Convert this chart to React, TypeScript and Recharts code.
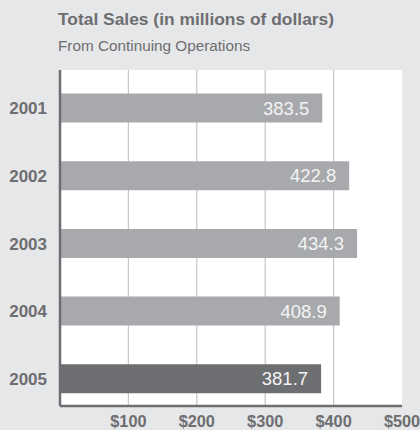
import React from 'react';
import { BarChart, Bar, XAxis, YAxis, CartesianGrid, Cell, LabelList } from 'recharts';

// values
const years = ['2001', '2002', '2003', '2004', '2005'];
const sales = [383.5, 422.8, 434.3, 408.9, 381.7];
const axisTicks = [100, 200, 300, 400, 500];
const gridTicks = [100, 200, 300, 400];

const data = years.map((year, i) => ({ year, sales: sales[i] }));

const font = "'Liberation Sans', Arial, sans-serif";
const ink = '#6d6e71';
const barGray = '#a7a9ac';
const gridGray = '#c6c6c6';

export default function App() {
  return (
    <div
      style={{
        position: 'fixed',
        left: 0,
        top: 0,
        width: 420,
        height: 430,
        background: '#e6e7e8',
        fontFamily: font,
        overflow: 'hidden',
      }}
    >
      <div
        style={{
          position: 'absolute',
          left: 58,
          top: 11,
          fontSize: 17.4,
          lineHeight: '17px',
          fontWeight: 'bold',
          color: ink,
          whiteSpace: 'nowrap',
        }}
      >
        Total Sales (in millions of dollars)
      </div>
      <div
        style={{
          position: 'absolute',
          left: 58,
          top: 37.5,
          fontSize: 15.3,
          lineHeight: '15.3px',
          color: ink,
          whiteSpace: 'nowrap',
        }}
      >
        From Continuing Operations
      </div>
      <div style={{ position: 'absolute', left: 0, top: 0 }}>
        <BarChart
          width={420}
          height={430}
          data={data}
          layout="vertical"
          margin={{ top: 62, right: 18, bottom: 0, left: 0 }}
          style={{ fontFamily: font }}
        >
          <CartesianGrid
            horizontal={false}
            verticalValues={gridTicks}
            stroke={gridGray}
            strokeWidth={1.2}
            fill="#ffffff"
          />
          <XAxis
            xAxisId="top"
            orientation="top"
            type="number"
            domain={[0, 500]}
            ticks={gridTicks}
            interval={0}
            height={8}
            axisLine={false}
            tickSize={8}
            tickLine={{ stroke: gridGray, strokeWidth: 1.2 }}
            tick={{ fontSize: 0 }}
          />
          <XAxis
            type="number"
            domain={[0, 500]}
            ticks={axisTicks}
            interval={0}
            height={24}
            tickFormatter={(v: number) => `$${v}`}
            axisLine={{ stroke: ink, strokeWidth: 2.5 }}
            tickLine={false}
            tickSize={6}
            tickMargin={3}
            tick={{ fill: ink, fontSize: 16.3, fontWeight: 'bold' }}
          />
          <YAxis
            type="category"
            dataKey="year"
            width={60}
            padding={{ top: 4.5, bottom: -7 }}
            axisLine={{ stroke: ink, strokeWidth: 2.5 }}
            tickLine={false}
            tickMargin={7}
            tick={{ fill: ink, fontSize: 17, fontWeight: 'bold' }}
          />
          <Bar dataKey="sales" xAxisId="top" hide isAnimationActive={false} />
          <Bar dataKey="sales" barSize={29} isAnimationActive={false}>
            {data.map((d, i) => (
              <Cell key={d.year} fill={i === data.length - 1 ? ink : barGray} />
            ))}
            <LabelList
              dataKey="sales"
              position="insideRight"
              offset={13}
              fill="#f4f4f4"
              fontSize={18.5}
              formatter={(v: any) => Number(v).toFixed(1)}
            />
          </Bar>
        </BarChart>
      </div>
    </div>
  );
}
